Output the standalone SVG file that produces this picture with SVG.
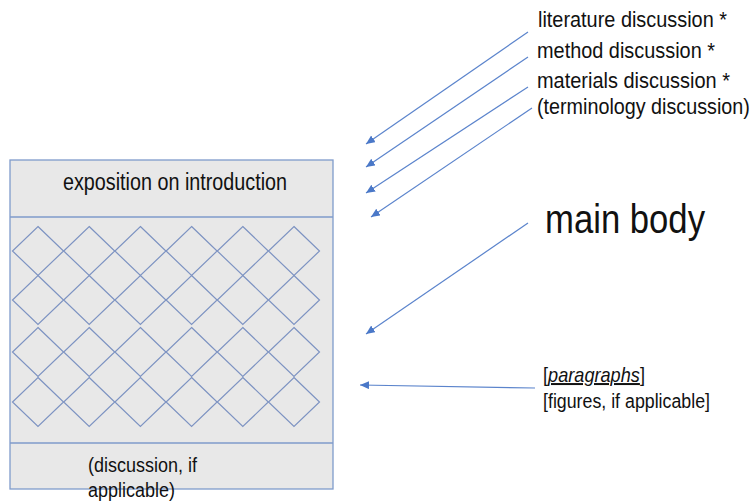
<svg xmlns="http://www.w3.org/2000/svg" xmlns:xlink="http://www.w3.org/1999/xlink" width="755" height="502" viewBox="0 0 755 502">
<style>
  .lbl { font-family: "Liberation Sans", Arial, sans-serif; fill: #111; }
  .box { fill: #e8e8e8; stroke: #7f9bcb; stroke-width: 1.3; }
  .div { stroke: #7f9bcb; stroke-width: 1.3; fill: none; }
  .dia { fill: none; stroke: #7d93c2; stroke-width: 1.2; }
  .arr { stroke: #5b84cc; stroke-width: 1.2; fill: none; marker-end: url(#ah); }
</style>
<defs>
  <marker id="ah" markerUnits="userSpaceOnUse" markerWidth="12" markerHeight="10" refX="9" refY="4" orient="auto">
    <path d="M0,0 L9,4 L0,8 Z" fill="#4a78c8"/>
  </marker>
  <path id="d" class="dia" d="M0,-24.5 L25.5,0 L0,24.5 L-25.5,0 Z"/>
</defs>
<rect width="755" height="502" fill="#ffffff"/>

<g id="document">
  <rect class="box" x="10" y="160" width="323" height="329"/>
  <line class="div" x1="10" y1="217" x2="333" y2="217"/>
  <line class="div" x1="10" y1="443" x2="333" y2="443"/>
  <text class="lbl" x="63" y="190" font-size="23" textLength="224" lengthAdjust="spacingAndGlyphs">exposition on introduction</text>
  <g id="lattice">
    <use xlink:href="#d" x="38" y="251"/><use xlink:href="#d" x="89.2" y="251"/><use xlink:href="#d" x="140.4" y="251"/><use xlink:href="#d" x="191.6" y="251"/><use xlink:href="#d" x="242.8" y="251"/><use xlink:href="#d" x="294" y="251"/>
    <use xlink:href="#d" x="38" y="300"/><use xlink:href="#d" x="89.2" y="300"/><use xlink:href="#d" x="140.4" y="300"/><use xlink:href="#d" x="191.6" y="300"/><use xlink:href="#d" x="242.8" y="300"/><use xlink:href="#d" x="294" y="300"/>
    <use xlink:href="#d" x="38" y="352"/><use xlink:href="#d" x="89.2" y="352"/><use xlink:href="#d" x="140.4" y="352"/><use xlink:href="#d" x="191.6" y="352"/><use xlink:href="#d" x="242.8" y="352"/><use xlink:href="#d" x="294" y="352"/>
    <use xlink:href="#d" x="38" y="402"/><use xlink:href="#d" x="89.2" y="402"/><use xlink:href="#d" x="140.4" y="402"/><use xlink:href="#d" x="191.6" y="402"/><use xlink:href="#d" x="242.8" y="402"/><use xlink:href="#d" x="294" y="402"/>
  </g>
  <text class="lbl" x="88" y="472" font-size="20" textLength="109" lengthAdjust="spacingAndGlyphs">(discussion, if</text>
  <text class="lbl" x="88" y="497" font-size="20" textLength="87" lengthAdjust="spacingAndGlyphs">applicable)</text>
</g>

<g id="intro-labels">
  <text class="lbl" x="538" y="27" font-size="22.5" textLength="189" lengthAdjust="spacingAndGlyphs">literature discussion *</text>
  <text class="lbl" x="537" y="57.5" font-size="22.5" textLength="178" lengthAdjust="spacingAndGlyphs">method discussion *</text>
  <text class="lbl" x="537" y="87.5" font-size="22.5" textLength="193" lengthAdjust="spacingAndGlyphs">materials discussion *</text>
  <text class="lbl" transform="translate(537,114) scale(0.878,1)" font-size="22.5">(terminology discussion)</text>
</g>

<g id="main-body">
  <text class="lbl" x="545" y="233" font-size="40" textLength="160" lengthAdjust="spacingAndGlyphs">main body</text>
</g>

<g id="paragraphs">
  <text class="lbl" transform="translate(543,382) scale(0.908,1)" font-size="20">[<tspan font-style="italic" text-decoration="underline">paragraphs</tspan>]</text>
  <text class="lbl" x="543" y="408" font-size="20" textLength="167" lengthAdjust="spacingAndGlyphs">[figures, if applicable]</text>
</g>

<g id="connectors">
  <line class="arr" x1="528" y1="32" x2="366" y2="144"/>
  <line class="arr" x1="528" y1="57" x2="366" y2="167"/>
  <line class="arr" x1="528" y1="87" x2="366" y2="193"/>
  <line class="arr" x1="532" y1="108" x2="371" y2="217"/>
  <line class="arr" x1="528" y1="223" x2="366" y2="334"/>
  <line class="arr" x1="535" y1="388" x2="360" y2="385"/>
</g>
</svg>
